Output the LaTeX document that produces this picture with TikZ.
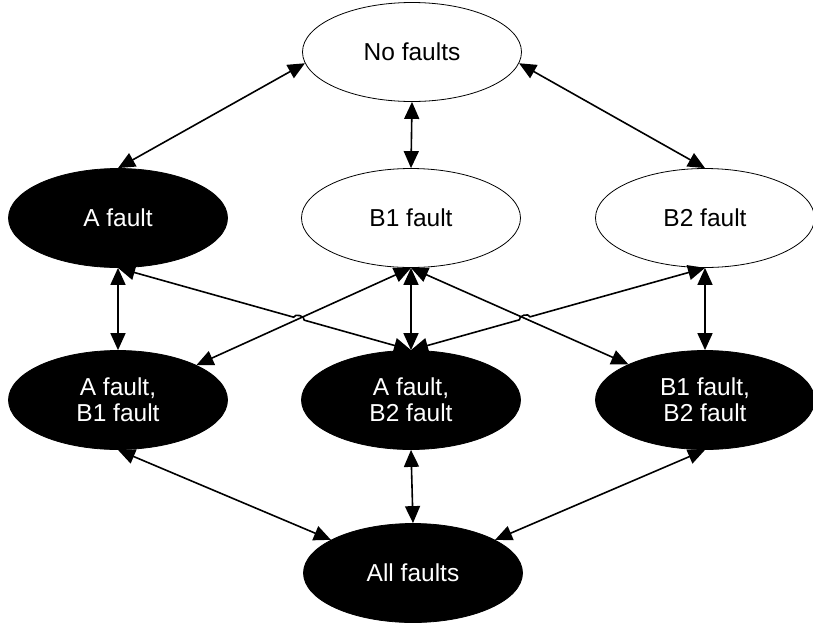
\documentclass[tikz,border=0pt]{standalone}
\usepackage{fontspec}
\setmainfont{Liberation Sans}
\usepackage{tikz}
\usetikzlibrary{shapes.geometric, arrows.meta, calc, intersections}

\begin{document}
\begin{tikzpicture}[
    x=1pt, y=-1pt,
    wstate/.style={ellipse, draw, fill=white, line width=0.8pt, inner sep=0pt,
                   minimum width=219pt, minimum height=99pt,
                   font=\fontsize{24.5}{26}\selectfont, align=center},
    bstate/.style={wstate, fill=black, text=white},
    arr/.style={{Triangle[length=17pt, width=15pt]}-{Triangle[length=17pt, width=15pt]},
                line width=1.6pt, black}
]
\useasboundingbox (0,0) rectangle (813,622);
\node[wstate] (nf)  at (412,52)  {No faults};
\node[bstate] (a)   at (118,218) {A fault};
\node[wstate] (b1)  at (411,218) {B1 fault};
\node[wstate] (b2)  at (705,218) {B2 fault};
\node[bstate] (ab1) at (118,400) {A fault,\\B1 fault};
\node[bstate] (ab2) at (411,400) {A fault,\\B2 fault};
\node[bstate] (bb)  at (705,400) {B1 fault,\\B2 fault};
\node[bstate] (all) at (413,573) {All faults};

% top row
\draw[arr] (nf.186) -- (a.north);
\draw[arr] (nf.south) -- (b1.north);
\draw[arr] (nf.354) -- (b2.north);

% middle
\draw[arr] (a.south) -- (ab1.north);
\draw[arr] (b1.south) -- (ab2.north);
\draw[arr] (b2.south) -- (bb.north);
\draw[arr, name path=ba] (b1.south) -- (ab1.24);
\draw[arr, name path=bc] (b1.south) -- (bb.155);

% crossing lines with hops
\path[name path=ac] (a.south) -- (ab2.north);
\path[name path=cb] (ab2.north) -- (b2.south);
\path[name intersections={of=ba and ac, by=hopl}];
\path[name intersections={of=bc and cb, by=hopr}];
\draw[arr] (a.south) -- ($(hopl)!5.5pt!(a.south)$)
    to[bend left=90] ($(hopl)!5.5pt!(ab2.north)$) -- (ab2.north);
\draw[arr] (ab2.north) -- ($(hopr)!5.5pt!(ab2.north)$)
    to[bend left=90] ($(hopr)!5.5pt!(b2.south)$) -- (b2.south);

% bottom
\draw[arr] (ab1.south) -- (all.158);
\draw[arr] (ab2.south) -- (all.north);
\draw[arr] (bb.south) -- (all.22);
\end{tikzpicture}
\end{document}
